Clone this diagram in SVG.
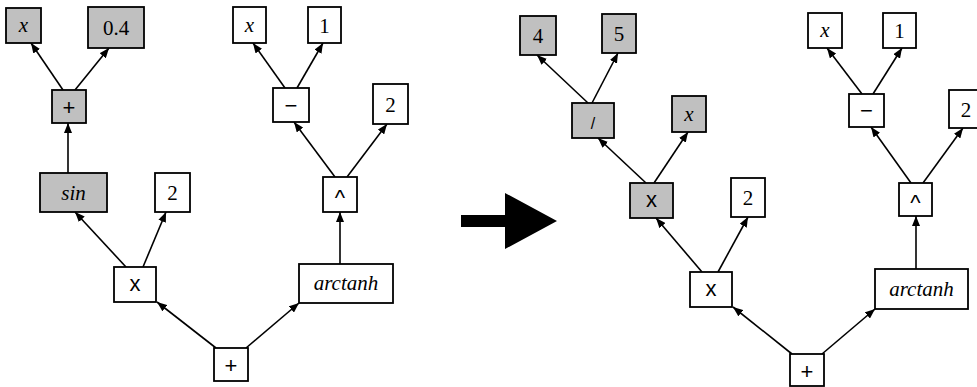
<svg xmlns="http://www.w3.org/2000/svg" width="977" height="387" viewBox="0 0 977 387">
  <defs>
    <marker id="ah" viewBox="0 0 10 8" refX="10" refY="4" markerWidth="10" markerHeight="8" markerUnits="userSpaceOnUse" orient="auto">
      <path d="M0,0 L10,4 L0,8 z" fill="#000"/>
    </marker>
    <style>
      rect { stroke: #000; stroke-width: 1.8; fill: #fff; }
      rect.g { fill: #c0c0c0; }
      text { text-anchor: middle; fill: #000; }
      .v { font-family: 'Liberation Serif', 'Times New Roman', serif; font-size: 21px; }
      .i { font-family: 'Liberation Serif', 'Times New Roman', serif; font-size: 21px; font-style: italic; }
      .op { font-family: 'Liberation Sans', Arial, sans-serif; font-size: 22px; }
      .sl { font-family: 'Liberation Sans', Arial, sans-serif; font-size: 16px; }
      #edges line { stroke: #000; stroke-width: 1.6; marker-end: url(#ah); }
    </style>
  </defs>
  <rect x="0" y="0" width="977" height="387" style="fill:#fff;stroke:none"/>

  <!-- connectors: parent node to child node -->
  <g id="edges">
    <!-- left tree -->
    <line x1="63" y1="90" x2="31" y2="43"/>
    <line x1="75" y1="90" x2="109" y2="48"/>
    <line x1="68" y1="173" x2="68" y2="123"/>
    <line x1="126" y1="267" x2="75" y2="212"/>
    <line x1="143" y1="267" x2="166" y2="212"/>
    <line x1="216" y1="348" x2="157" y2="302"/>
    <line x1="246" y1="348" x2="299" y2="303"/>
    <line x1="340" y1="264" x2="340" y2="212"/>
    <line x1="335" y1="177" x2="294" y2="122"/>
    <line x1="347" y1="177" x2="387" y2="124"/>
    <line x1="285" y1="88" x2="253" y2="43"/>
    <line x1="297" y1="88" x2="323" y2="43"/>
    <!-- right tree -->
    <line x1="588" y1="103" x2="537" y2="55"/>
    <line x1="592" y1="103" x2="618" y2="53"/>
    <line x1="646" y1="183" x2="598" y2="138"/>
    <line x1="654" y1="183" x2="688" y2="132"/>
    <line x1="702" y1="272" x2="656" y2="218"/>
    <line x1="718" y1="272" x2="748" y2="217"/>
    <line x1="792" y1="354" x2="733" y2="307"/>
    <line x1="822" y1="354" x2="875" y2="309"/>
    <line x1="916" y1="269" x2="916" y2="216"/>
    <line x1="911" y1="183" x2="871" y2="127"/>
    <line x1="923" y1="183" x2="963" y2="128"/>
    <line x1="862" y1="94" x2="827" y2="48"/>
    <line x1="873" y1="94" x2="902" y2="48"/>
  </g>

  <!-- transformation arrow -->
  <path id="bigArrow" d="M461,215 L505,215 L505,193 L557,221 L505,249 L505,227 L461,227 z" fill="#000"/>

  <!-- left tree nodes -->
  <g id="L_x"><rect class="g" x="6" y="8" width="35" height="35"/><text class="i" x="23.5" y="32">x</text></g>
  <g id="L_04"><rect class="g" x="88" y="7" width="56" height="41"/><text class="v" x="116" y="35">0.4</text></g>
  <g id="L_plus"><rect class="g" x="52" y="90" width="34" height="33"/><text class="op" x="69" y="115">+</text></g>
  <g id="L_sin"><rect class="g" x="40" y="173" width="67" height="39"/><text class="i" x="73.5" y="200">sin</text></g>
  <g id="L_two_a"><rect x="155" y="173" width="35" height="39"/><text class="v" x="172.5" y="200">2</text></g>
  <g id="L_mul"><rect x="114" y="267" width="42" height="35"/><text class="op" x="135" y="290.5">x</text></g>
  <g id="L_root"><rect x="214" y="348" width="34" height="33"/><text class="op" x="231" y="373">+</text></g>
  <g id="L_arctanh"><rect x="299" y="264" width="94" height="39"/><text class="i" x="346" y="290">arctanh</text></g>
  <g id="L_pow"><rect x="323" y="177" width="34" height="35"/><text class="op" x="340" y="204.5">^</text></g>
  <g id="L_minus"><rect x="273" y="88" width="36" height="34"/><text class="op" x="291" y="112.5">−</text></g>
  <g id="L_two_b"><rect x="373" y="84" width="35" height="40"/><text class="v" x="390.5" y="111.5">2</text></g>
  <g id="L_xb"><rect x="233" y="7" width="33" height="36"/><text class="i" x="249.5" y="31.5">x</text></g>
  <g id="L_one"><rect x="308" y="7" width="33" height="36"/><text class="v" x="324.5" y="32.5">1</text></g>

  <!-- right tree nodes -->
  <g id="R_4"><rect class="g" x="520" y="16" width="36" height="39"/><text class="v" x="538" y="43">4</text></g>
  <g id="R_5"><rect class="g" x="602" y="14" width="34" height="39"/><text class="v" x="619" y="41">5</text></g>
  <g id="R_div"><rect class="g" x="572" y="103" width="42" height="35"/><text class="sl" x="593" y="128.5">/</text></g>
  <g id="R_x"><rect class="g" x="672" y="96" width="34" height="36"/><text class="i" x="689" y="120.5">x</text></g>
  <g id="R_mulg"><rect class="g" x="630" y="183" width="43" height="35"/><text class="op" x="651.5" y="206.5">x</text></g>
  <g id="R_two_a"><rect x="731" y="178" width="34" height="39"/><text class="v" x="748" y="205">2</text></g>
  <g id="R_mul"><rect x="690" y="272" width="42" height="35"/><text class="op" x="711" y="295.5">x</text></g>
  <g id="R_root"><rect x="790" y="354" width="34" height="32"/><text class="op" x="807" y="378.5">+</text></g>
  <g id="R_arctanh"><rect x="875" y="269" width="93" height="40"/><text class="i" x="921.5" y="296">arctanh</text></g>
  <g id="R_pow"><rect x="899" y="183" width="33" height="33"/><text class="op" x="915.5" y="209.5">^</text></g>
  <g id="R_minus"><rect x="849" y="94" width="35" height="33"/><text class="op" x="866.5" y="118">−</text></g>
  <g id="R_two_b"><rect x="949" y="90" width="35" height="38"/><text class="v" x="966" y="116.5">2</text></g>
  <g id="R_xb"><rect x="808" y="13" width="34" height="35"/><text class="i" x="825" y="37">x</text></g>
  <g id="R_one"><rect x="883" y="13" width="33" height="35"/><text class="v" x="899.5" y="38">1</text></g>
</svg>
